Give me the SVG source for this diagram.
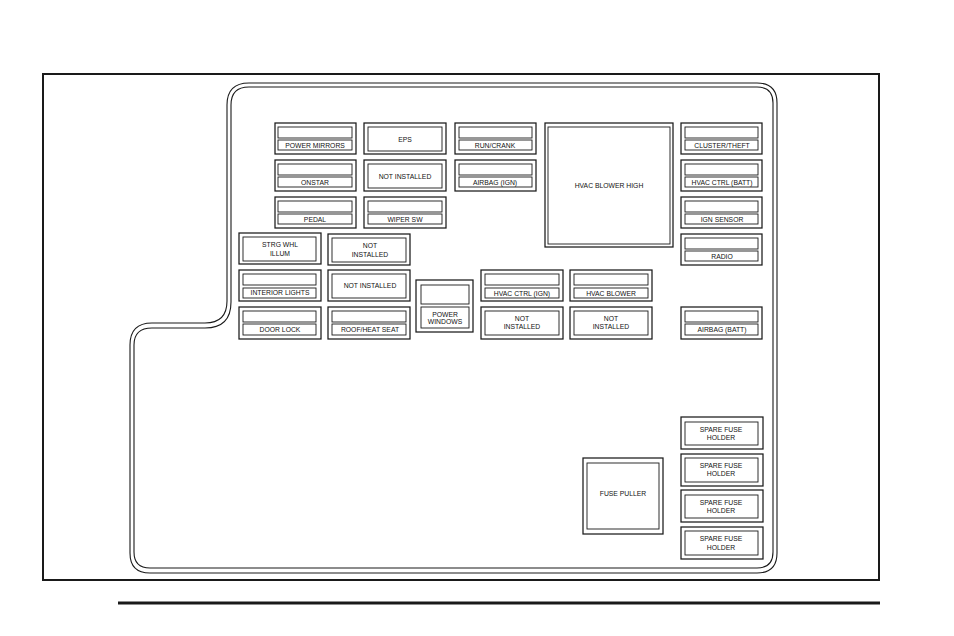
<svg xmlns="http://www.w3.org/2000/svg" width="954" height="636" viewBox="0 0 954 636">
<style>
rect,path{fill:none;stroke:#1a1a1a}
.o{stroke-width:1.25}
.i{stroke-width:.9}
.b{stroke-width:1.1}
text{font-family:"Liberation Sans",Arial,sans-serif;font-size:6.8px;fill:#111;text-anchor:middle}
</style>
<rect width="954" height="636" style="fill:#fff;stroke:none"/>
<rect x="43" y="74" width="836" height="506" style="stroke-width:2"/>
<path d="M118 603H880" style="stroke-width:3"/>
<g id="board">
<path class="b" d="M249 83H757Q777 83 777 103V553Q777 573 757 573H150Q130 573 130 553V345Q130 323 152 323H205Q227 323 227 301V105Q227 83 249 83Z"/>
<path class="b" d="M249 87H757Q773 87 773 103V552Q773 568 757 568H150Q134 568 134 552V345Q134 328 152 328H205Q231 328 231 302V105Q231 87 249 87Z"/>
</g>
<g id="power-mirrors"><rect class="o" x="275" y="123" width="81" height="31"/><rect class="i" x="278" y="127" width="74" height="11"/><rect class="i" x="278" y="140" width="74" height="10"/><text x="315" y="148">POWER MIRRORS</text></g>
<g id="onstar"><rect class="o" x="275" y="160" width="81" height="31"/><rect class="i" x="278" y="164" width="74" height="11"/><rect class="i" x="278" y="177" width="74" height="10"/><text x="315" y="185">ONSTAR</text></g>
<g id="pedal"><rect class="o" x="275" y="197" width="81" height="31"/><rect class="i" x="278" y="201" width="74" height="11"/><rect class="i" x="278" y="214" width="74" height="10"/><text x="315" y="222">PEDAL</text></g>
<g id="eps"><rect class="o" x="364" y="123" width="82" height="31"/><rect class="i" x="368" y="127" width="74" height="24"/><text x="405" y="142">EPS</text></g>
<g id="not-installed-1"><rect class="o" x="364" y="160" width="82" height="31"/><rect class="i" x="368" y="164" width="74" height="24"/><text x="405" y="179">NOT INSTALLED</text></g>
<g id="wiper-sw"><rect class="o" x="364" y="197" width="82" height="31"/><rect class="i" x="368" y="201" width="74" height="11"/><rect class="i" x="368" y="214" width="74" height="10"/><text x="405" y="222">WIPER SW</text></g>
<g id="run-crank"><rect class="o" x="455" y="123" width="81" height="31"/><rect class="i" x="459" y="127" width="73" height="11"/><rect class="i" x="459" y="140" width="73" height="10"/><text x="495" y="148">RUN/CRANK</text></g>
<g id="airbag-ign"><rect class="o" x="455" y="160" width="81" height="31"/><rect class="i" x="459" y="164" width="73" height="11"/><rect class="i" x="459" y="177" width="73" height="10"/><text x="495" y="185">AIRBAG (IGN)</text></g>
<g id="hvac-blower-high"><rect class="o" x="545" y="123" width="128" height="124"/><rect class="i" x="548" y="127" width="122" height="117"/><text x="609" y="188">HVAC BLOWER HIGH</text></g>
<g id="cluster-theft"><rect class="o" x="681" y="123" width="81" height="31"/><rect class="i" x="685" y="127" width="73" height="11"/><rect class="i" x="685" y="140" width="73" height="10"/><text x="722" y="148">CLUSTER/THEFT</text></g>
<g id="hvac-ctrl-batt"><rect class="o" x="681" y="160" width="81" height="31"/><rect class="i" x="685" y="164" width="73" height="11"/><rect class="i" x="685" y="177" width="73" height="10"/><text x="722" y="185">HVAC CTRL (BATT)</text></g>
<g id="ign-sensor"><rect class="o" x="681" y="197" width="81" height="31"/><rect class="i" x="685" y="201" width="73" height="11"/><rect class="i" x="685" y="214" width="73" height="10"/><text x="722" y="222">IGN SENSOR</text></g>
<g id="radio"><rect class="o" x="681" y="234" width="81" height="31"/><rect class="i" x="685" y="238" width="73" height="11"/><rect class="i" x="685" y="251" width="73" height="10"/><text x="722" y="259">RADIO</text></g>
<g id="airbag-batt"><rect class="o" x="681" y="307" width="81" height="32"/><rect class="i" x="685" y="311" width="73" height="11"/><rect class="i" x="685" y="324" width="73" height="11"/><text x="722" y="332">AIRBAG (BATT)</text></g>
<g id="strg-whl-illum"><rect class="o" x="239" y="233" width="82" height="31"/><rect class="i" x="243" y="237" width="73" height="24"/><text x="280" y="247">STRG WHL</text><text x="280" y="256">ILLUM</text></g>
<g id="not-installed-2"><rect class="o" x="328" y="234" width="82" height="31"/><rect class="i" x="332" y="238" width="74" height="24"/><text x="370" y="248">NOT</text><text x="370" y="257">INSTALLED</text></g>
<g id="interior-lights"><rect class="o" x="239" y="270" width="82" height="31"/><rect class="i" x="243" y="274" width="73" height="11"/><rect class="i" x="243" y="288" width="73" height="10"/><text x="280" y="295">INTERIOR LIGHTS</text></g>
<g id="not-installed-3"><rect class="o" x="328" y="270" width="82" height="31"/><rect class="i" x="332" y="274" width="74" height="24"/><text x="370" y="288">NOT INSTALLED</text></g>
<g id="door-lock"><rect class="o" x="239" y="307" width="82" height="32"/><rect class="i" x="243" y="311" width="73" height="11"/><rect class="i" x="243" y="324" width="73" height="11"/><text x="280" y="332">DOOR LOCK</text></g>
<g id="roof-heat-seat"><rect class="o" x="328" y="307" width="82" height="32"/><rect class="i" x="332" y="311" width="74" height="11"/><rect class="i" x="332" y="324" width="74" height="11"/><text x="370" y="332">ROOF/HEAT SEAT</text></g>
<g id="power-windows"><rect class="o" x="416" y="280" width="57" height="52"/><rect class="i" x="421" y="285" width="48" height="19"/><rect class="i" x="421" y="307" width="48" height="21"/><text x="445" y="317">POWER</text><text x="445" y="324">WINDOWS</text></g>
<g id="hvac-ctrl-ign"><rect class="o" x="481" y="270" width="82" height="31"/><rect class="i" x="485" y="274" width="74" height="11"/><rect class="i" x="485" y="288" width="74" height="10"/><text x="522" y="296">HVAC CTRL (IGN)</text></g>
<g id="hvac-blower"><rect class="o" x="570" y="270" width="82" height="31"/><rect class="i" x="574" y="274" width="74" height="11"/><rect class="i" x="574" y="288" width="74" height="10"/><text x="611" y="296">HVAC BLOWER</text></g>
<g id="not-installed-4"><rect class="o" x="481" y="307" width="82" height="32"/><rect class="i" x="485" y="311" width="74" height="24"/><text x="522" y="321">NOT</text><text x="522" y="329">INSTALLED</text></g>
<g id="not-installed-5"><rect class="o" x="570" y="307" width="82" height="32"/><rect class="i" x="574" y="311" width="74" height="24"/><text x="611" y="321">NOT</text><text x="611" y="329">INSTALLED</text></g>
<g id="fuse-puller"><rect class="o" x="583" y="458" width="80" height="76"/><rect class="i" x="587" y="463" width="72" height="66"/><text x="623" y="496">FUSE PULLER</text></g>
<g id="spare-1"><rect class="o" x="681" y="417" width="82" height="32"/><rect class="i" x="685" y="422" width="73" height="23"/><text x="721" y="432">SPARE FUSE</text><text x="721" y="440">HOLDER</text></g>
<g id="spare-2"><rect class="o" x="681" y="454" width="82" height="32"/><rect class="i" x="685" y="458" width="73" height="24"/><text x="721" y="468">SPARE FUSE</text><text x="721" y="476">HOLDER</text></g>
<g id="spare-3"><rect class="o" x="681" y="490" width="82" height="32"/><rect class="i" x="685" y="495" width="73" height="23"/><text x="721" y="505">SPARE FUSE</text><text x="721" y="513">HOLDER</text></g>
<g id="spare-4"><rect class="o" x="681" y="527" width="82" height="32"/><rect class="i" x="685" y="531" width="73" height="24"/><text x="721" y="541">SPARE FUSE</text><text x="721" y="550">HOLDER</text></g>
<g id="connectors"/>
</svg>
